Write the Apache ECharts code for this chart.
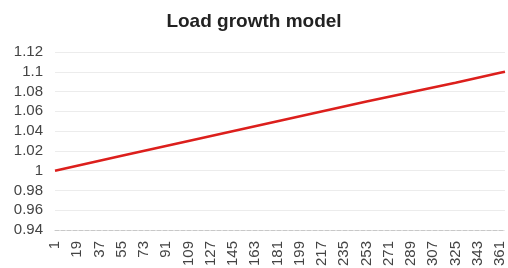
<!DOCTYPE html>
<html>
<head>
<meta charset="utf-8">
<script src="https://cdn.jsdelivr.net/npm/echarts@6/dist/echarts.min.js"></script>
<style>
  html, body { margin: 0; padding: 0; background: #fff; }
  #main { width: 508px; height: 268px; }
</style>
</head>
<body>
<div id="main"></div>
<script>
var days   = [1, 19, 55, 109, 181, 253, 325, 361, 365];
var values = [1.000, 1.005, 1.015, 1.030, 1.050, 1.070, 1.089, 1.099, 1.100];
// tick labels shown under the x axis
var dayLabels = [1, 19, 37, 55, 73, 91, 109, 127, 145, 163, 181, 199, 217, 235, 253, 271, 289, 307, 325, 343, 361];

var points = [];
for (var i = 0; i < days.length; i++) {
  points.push([days[i], values[i]]);
}

var font = '"Liberation Sans", Arial, sans-serif';

var option = {
  animation: false,
  title: {
    text: 'Load growth model',
    left: 'center',
    top: 7,
    textStyle: { fontFamily: font, fontSize: 19, fontWeight: 'bold', color: '#222' }
  },
  grid: { left: 55, right: 3, top: 52, bottom: 38, outerBoundsMode: 'none' },
  xAxis: {
    type: 'value',
    min: 1,
    max: 365,
    axisLine: { show: true, lineStyle: { color: '#c8c8c8', type: 'dashed', width: 1 } },
    axisTick: { show: false },
    splitLine: { show: false },
    axisLabel: {
      customValues: dayLabels,
      rotate: 90,
      margin: 11,
      fontFamily: font,
      fontSize: 15,
      color: '#444'
    }
  },
  yAxis: {
    type: 'value',
    min: 0.94,
    max: 1.12,
    interval: 0.02,
    axisLine: { show: false },
    axisTick: { show: false },
    splitLine: { lineStyle: { color: '#ececec', width: 1 } },
    axisLabel: {
      margin: 12,
      fontFamily: font,
      fontSize: 15,
      color: '#444',
      formatter: function (v) { return String(Math.round(v * 100) / 100); }
    }
  },
  series: [{
    type: 'line',
    data: points,
    showSymbol: false,
    lineStyle: { color: '#dc1f1c', width: 2.5 }
  }]
};

var myChart = echarts.init(document.getElementById('main'));
myChart.setOption(option, true);
</script>
</body>
</html>
